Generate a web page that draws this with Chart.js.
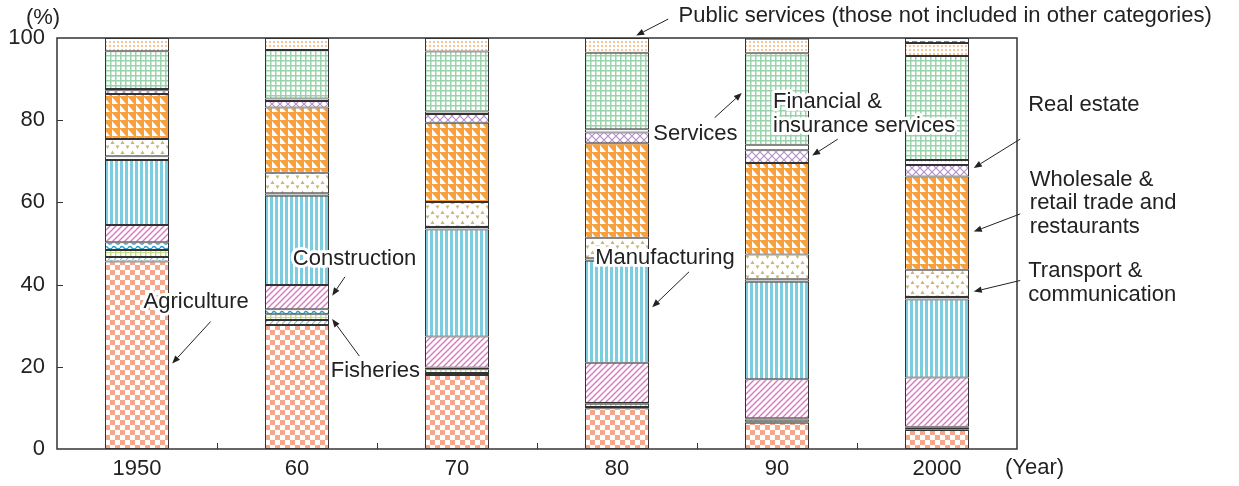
<!DOCTYPE html>
<html>
<head>
<meta charset="utf-8">
<script src="https://cdn.jsdelivr.net/npm/chart.js@4"></script>
<style>
  html, body { margin: 0; padding: 0; background: #fff; }
  #wrap { width: 1239px; height: 486px; }
</style>
</head>
<body>
<div id="wrap"><canvas id="grafico" width="1239" height="486"></canvas></div>
<script>
const years = ['1950', '60', '70', '80', '90', '2000'];

// shares of each industry (%), bottom to top
const agriculture    = [45.6, 30.2, 18.0,  9.9,  6.4,  4.6];
const forestry       = [ 1.1,  1.2,  0.5,  0.3,  0.2,  0.1];
const fisheries      = [ 1.7,  1.4,  0.9,  0.8,  0.6,  0.5];
const mining         = [ 1.9,  1.2,  0.4,  0.2,  0.3,  0.2];
const construction   = [ 4.2,  5.9,  7.6,  9.8,  9.5, 12.0];
const manufacturing  = [15.8, 21.7, 26.0, 24.8, 23.7, 19.0];
const utilities      = [ 0.9,  0.6,  0.6,  0.6,  0.6,  0.6];
const transport      = [ 4.2,  5.0,  6.1,  5.0,  6.0,  6.6];
const wholesale      = [11.0, 15.9, 19.3, 23.0, 22.3, 22.7];
const finance        = [ 0.9,  1.6,  2.1,  2.6,  3.1,  2.8];
const realEstate     = [ 0.3,  0.6,  0.6,  0.8,  1.3,  1.2];
const services       = [ 9.2, 11.8, 14.6, 18.6, 22.3, 25.3];
const publicServices = [ 3.2,  2.9,  3.3,  3.6,  3.5,  3.2];
const unclassified   = [ 0,    0,    0,    0,    0.2,  1.2];

const yTicks = [0, 20, 40, 60, 80, 100];

const FONT = '"Liberation Sans", Arial, Helvetica, sans-serif';
const INK = '#222';
const SIZE = 22;

// ---- fill patterns ----
const tile = (w, h, draw) => {
    const c = document.createElement('canvas');
    c.width = w; c.height = h;
    const g = c.getContext('2d');
    g.fillStyle = '#fff';
    g.fillRect(0, 0, w, h);
    draw(g, w, h);
    return g.createPattern(c, 'repeat');
};

const pCheck = tile(10, 10, g => {
    g.fillStyle = '#f6a78a';
    g.fillRect(0, 0, 5, 5);
    g.fillRect(5, 5, 5, 5);
});
const pForestry = tile(6, 4, g => {
    g.strokeStyle = '#78c6df'; g.lineWidth = 1.2;
    g.beginPath(); g.moveTo(0, 4); g.lineTo(4, 0); g.stroke();
});
const pFisheries = tile(5, 5, g => {
    g.fillStyle = '#c3de86';
    g.fillRect(0, 0, 1.5, 5);
    g.fillRect(0, 2, 5, 1);
});
const pMining = tile(8, 5, g => {
    g.strokeStyle = '#2a9cc6'; g.lineWidth = 1.5;
    g.beginPath(); g.moveTo(0, 3); g.quadraticCurveTo(2, 0, 4, 3); g.quadraticCurveTo(6, 5, 8, 3); g.stroke();
});
const pConstruction = tile(6, 6, g => {
    g.strokeStyle = '#da78bd'; g.lineWidth = 1.4;
    g.beginPath();
    g.moveTo(0, 6); g.lineTo(6, 0);
    g.moveTo(-1, 1); g.lineTo(1, -1);
    g.moveTo(5, 7); g.lineTo(7, 5);
    g.stroke();
});
const pVertical = tile(5, 2, g => {
    g.fillStyle = '#7ccde0';
    g.fillRect(0, 0, 3, 2);
});
const pTransport = tile(10, 10, g => {
    g.fillStyle = '#c9b47a';
    g.beginPath(); g.moveTo(0.5, 4); g.lineTo(2.5, 0.5); g.lineTo(4.5, 4); g.closePath(); g.fill();
    g.beginPath(); g.moveTo(5.5, 5.5); g.lineTo(9.5, 5.5); g.lineTo(7.5, 9); g.closePath(); g.fill();
});
const pWholesale = tile(8, 8, g => {
    g.fillStyle = '#f8a03c';
    g.fillRect(0, 0, 8, 8);
    g.fillStyle = '#fff';
    g.beginPath(); g.moveTo(0, 1); g.lineTo(0, 8); g.lineTo(6, 8); g.closePath(); g.fill();
});
const pFinance = tile(8, 8, g => {
    g.strokeStyle = '#b590c8'; g.lineWidth = 1.2;
    g.beginPath();
    g.moveTo(0, 0); g.lineTo(8, 8);
    g.moveTo(8, 0); g.lineTo(0, 8);
    g.stroke();
});
const pRealEstate = tile(4, 4, g => {
    g.fillStyle = '#e2c4dc';
    g.fillRect(1, 1, 1, 1);
});
const pServices = tile(5, 5, g => {
    g.fillStyle = '#98d3ab';
    g.fillRect(0, 0, 5, 1.5);
    g.fillRect(0, 0, 1.5, 5);
});
const pPublic = tile(4, 4, g => {
    g.fillStyle = '#f8c696';
    g.fillRect(1, 1, 2, 2);
});
const pUnclassified = tile(8, 4, g => {
    g.fillStyle = '#3a9ed3';
    g.fillRect(0, 1, 5, 2);
});

const series = [
    ['Agriculture', agriculture, pCheck],
    ['Forestry', forestry, pForestry],
    ['Fisheries', fisheries, pFisheries],
    ['Mining', mining, pMining],
    ['Construction', construction, pConstruction],
    ['Manufacturing', manufacturing, pVertical],
    ['Electricity, gas & water', utilities, '#ffffff'],
    ['Transport & communication', transport, pTransport],
    ['Wholesale & retail trade and restaurants', wholesale, pWholesale],
    ['Financial & insurance services', finance, pFinance],
    ['Real estate', realEstate, pRealEstate],
    ['Services', services, pServices],
    ['Public services', publicServices, pPublic],
    ['Not classified', unclassified, pUnclassified]
];

// ---- annotations (category units, value units) ----
const notes = [
    { lines: ['Public services (those not included in other categories)'], at: [3.385, 105.3], align: 'left', from: [3.32, 104.6], to: [3.12, 100.6] },
    { lines: ['Agriculture'], at: [0.37, 35.8], align: 'center', from: [0.46, 31.0], to: [0.22, 20.8] },
    { lines: ['Construction'], at: [1.36, 46.3], align: 'center', from: [1.30, 41.9], to: [1.22, 37.3] },
    { lines: ['Fisheries'], at: [1.49, 19.0], align: 'center', from: [1.39, 22.6], to: [1.22, 31.6] },
    { lines: ['Manufacturing'], at: [3.30, 46.5], align: 'center', from: [3.45, 43.1], to: [3.22, 34.5] },
    { lines: ['Services'], at: [3.49, 76.6], align: 'center', from: [3.61, 80.6], to: [3.78, 86.6] },
    { lines: ['Financial &', 'insurance services'], at: [3.975, 84.4], align: 'left', from: [4.38, 75.4], to: [4.22, 71.4] },
    { lines: ['Real estate'], at: [5.57, 83.7], align: 'left', from: [5.52, 75.4], to: [5.23, 68.4] },
    { lines: ['Wholesale &', 'retail trade and', 'restaurants'], at: [5.58, 65.5], align: 'left', from: [5.52, 57.2], to: [5.23, 52.9] },
    { lines: ['Transport &', 'communication'], at: [5.57, 43.3], align: 'left', from: [5.52, 41.0], to: [5.23, 38.3] }
];

const arrow = (ctx, x1, y1, x2, y2) => {
    const a = Math.atan2(y2 - y1, x2 - x1);
    const len = 8, half = 3.2;
    const bx = x2 - len * Math.cos(a), by = y2 - len * Math.sin(a);
    ctx.beginPath();
    ctx.moveTo(x1, y1);
    ctx.lineTo(bx, by);
    ctx.stroke();
    ctx.beginPath();
    ctx.moveTo(x2, y2);
    ctx.lineTo(bx + half * Math.sin(a), by - half * Math.cos(a));
    ctx.lineTo(bx - half * Math.sin(a), by + half * Math.cos(a));
    ctx.closePath();
    ctx.fill();
};

const decor = {
    id: 'decor',
    afterDatasetsDraw(chart) {
        const { ctx, chartArea: ca, scales: { x, y } } = chart;
        const px = v => x.getPixelForValue(0) + v * (x.getPixelForValue(1) - x.getPixelForValue(0));
        ctx.save();
        // frame
        ctx.strokeStyle = '#333';
        ctx.lineWidth = 1.5;
        ctx.strokeRect(ca.left, ca.top, ca.right - ca.left, ca.bottom - ca.top);
        // inward ticks
        ctx.lineWidth = 1;
        ctx.beginPath();
        yTicks.slice(1, -1).forEach(t => {
            const yy = Math.round(y.getPixelForValue(t)) + 0.5;
            ctx.moveTo(ca.left, yy); ctx.lineTo(ca.left + 6, yy);
        });
        for (let i = 0; i < years.length - 1; i++) {
            const xx = Math.round(px(i + 0.5)) + 0.5;
            ctx.moveTo(xx, ca.bottom); ctx.lineTo(xx, ca.bottom - 6);
        }
        ctx.stroke();

        // units
        ctx.fillStyle = INK;
        ctx.font = SIZE + 'px ' + FONT;
        ctx.textBaseline = 'middle';
        ctx.textAlign = 'center';
        ctx.fillText('(%)', ca.left - 14, ca.top - 20);
        ctx.textAlign = 'left';
        ctx.fillText('(Year)', ca.right - 12, ca.bottom + 19);

        // notes
        ctx.lineWidth = 1;
        ctx.strokeStyle = INK;
        notes.forEach(n => {
            arrow(ctx, px(n.from[0]), y.getPixelForValue(n.from[1]), px(n.to[0]), y.getPixelForValue(n.to[1]));
        });
        notes.forEach(n => {
            ctx.textAlign = n.align;
            const tx = px(n.at[0]);
            const ty = y.getPixelForValue(n.at[1]);
            n.lines.forEach((line, k) => {
                ctx.lineJoin = 'round';
                ctx.strokeStyle = '#fff';
                ctx.lineWidth = 6;
                ctx.strokeText(line, tx, ty + k * 23.5);
                ctx.fillStyle = INK;
                ctx.fillText(line, tx, ty + k * 23.5);
            });
        });
        ctx.restore();
    }
};

new Chart(document.getElementById('grafico'), {
    type: 'bar',
    data: {
        labels: years,
        datasets: series.map(([label, data, fill]) => ({
            label: label,
            data: data,
            backgroundColor: fill,
            borderColor: '#333',
            borderWidth: 1,
            borderSkipped: false,
            barPercentage: 0.4,
            categoryPercentage: 1.0
        }))
    },
    options: {
        responsive: false,
        animation: false,
        events: [],
        layout: { padding: { left: 0, right: 222, top: 38, bottom: 0 } },
        plugins: { legend: { display: false }, tooltip: { enabled: false } },
        scales: {
            x: {
                stacked: true,
                grid: { display: false, drawTicks: false },
                border: { display: false },
                ticks: { color: INK, font: { family: FONT, size: SIZE }, padding: 7, maxRotation: 0 },
                afterFit: s => { s.height = 37; }
            },
            y: {
                stacked: true,
                min: 0,
                max: 100,
                grid: { display: false, drawTicks: false },
                border: { display: false },
                ticks: { stepSize: 20, color: INK, font: { family: FONT, size: SIZE }, padding: 12 },
                afterFit: s => { s.width = 57; }
            }
        }
    },
    plugins: [decor]
});
</script>
</body>
</html>
